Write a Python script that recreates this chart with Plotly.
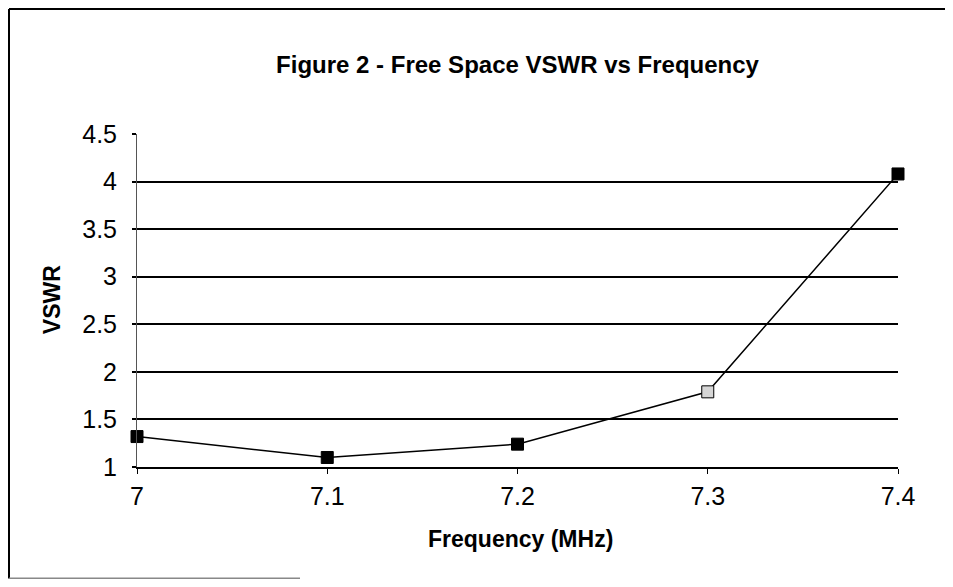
import plotly.graph_objects as go

# Data
freq = [7.0, 7.1, 7.2, 7.3, 7.4]
vswr = [1.32, 1.10, 1.24, 1.79, 4.08]
marker_fill = ["black", "black", "black", "#d6d6d6", "black"]

x_tick_vals = [7.0, 7.1, 7.2, 7.3, 7.4]
x_tick_text = ["7", "7.1", "7.2", "7.3", "7.4"]
y_tick_vals = [1, 1.5, 2, 2.5, 3, 3.5, 4, 4.5]
y_tick_text = ["1", "1.5", "2", "2.5", "3", "3.5", "4", "4.5"]

title_text = "Figure 2 - Free Space VSWR vs Frequency"
x_title = "Frequency (MHz)"
y_title = "VSWR"

# The page body has an 8px margin on every side, so the figure is drawn at
# (8, 8) and must stay 16px smaller than the window to avoid scrollbars.
OFF = 8
W, H = 953 - 2 * OFF, 587 - 2 * OFF
L, T = 137 - OFF, 134 - OFF
R = W - (898 - OFF)
B = H - (466.7 - OFF)
pw, ph = W - L - R, H - T - B

def px_to_paper_x(px):
    return (px - OFF - L) / pw

def px_to_paper_y(py):
    return (H - B - (py - OFF)) / ph

FONT = "Liberation Sans, Arial, sans-serif"

fig = go.Figure()
fig.add_trace(go.Scatter(
    x=freq, y=vswr, mode="lines+markers",
    line=dict(color="black", width=1.5),
    marker=dict(symbol="square", size=12, color=marker_fill,
                line=dict(color="black", width=1)),
    cliponaxis=False, showlegend=False,
))

fig.update_layout(
    width=W, height=H,
    margin=dict(l=L, r=R, t=T, b=B),
    paper_bgcolor="white", plot_bgcolor="white",
    font=dict(family=FONT, color="black"),
    title=dict(text="<b>" + title_text + "</b>", x=0.5, xref="paper",
               y=1 - (65 - OFF) / H, yref="container", yanchor="middle",
               xanchor="center", font=dict(size=24, color="black")),
    xaxis=dict(range=[7.0, 7.4], tickmode="array", tickvals=x_tick_vals,
               ticktext=x_tick_text, showgrid=False, zeroline=False,
               showline=True, linecolor="black", linewidth=1.5,
               ticks="outside", ticklen=5, tickcolor="black", tickwidth=1,
               tickfont=dict(size=25, color="black"), ticklabelstandoff=1),
    yaxis=dict(range=[1, 4.5], tickmode="array", tickvals=y_tick_vals,
               ticktext=y_tick_text, showgrid=True, gridcolor="black",
               gridwidth=1.5, zeroline=False, showline=True,
               linecolor="#555555", linewidth=1,
               ticks="outside", ticklen=4, tickcolor="black", tickwidth=1.5,
               tickfont=dict(size=25, color="black"), ticklabelstandoff=10),
)

fig.add_annotation(text="<b>" + x_title + "</b>", xref="paper", yref="paper",
                   x=px_to_paper_x(520.5), y=px_to_paper_y(539),
                   xanchor="center", yanchor="middle", showarrow=False,
                   font=dict(size=23, color="black"))
fig.add_annotation(text="<b>" + y_title + "</b>", xref="paper", yref="paper",
                   x=px_to_paper_x(52), y=px_to_paper_y(300), textangle=-90,
                   xanchor="center", yanchor="middle", showarrow=False,
                   font=dict(size=23, color="black"))

# Outer frame (left, top, and partial faint bottom edges)
frame_left, frame_top, frame_bottom = OFF + 1, OFF + 1, OFF + H - 1
fig.add_shape(type="line", xref="paper", yref="paper",
              x0=px_to_paper_x(frame_left), x1=px_to_paper_x(frame_left),
              y0=px_to_paper_y(frame_bottom), y1=px_to_paper_y(frame_top),
              line=dict(color="black", width=2), layer="below")
fig.add_shape(type="line", xref="paper", yref="paper",
              x0=px_to_paper_x(frame_left), x1=px_to_paper_x(OFF + W),
              y0=px_to_paper_y(frame_top), y1=px_to_paper_y(frame_top),
              line=dict(color="black", width=2), layer="below")
fig.add_shape(type="line", xref="paper", yref="paper",
              x0=px_to_paper_x(frame_left), x1=px_to_paper_x(300),
              y0=px_to_paper_y(frame_bottom), y1=px_to_paper_y(frame_bottom),
              line=dict(color="#888888", width=2), layer="below")

fig.write_html("out.html")
